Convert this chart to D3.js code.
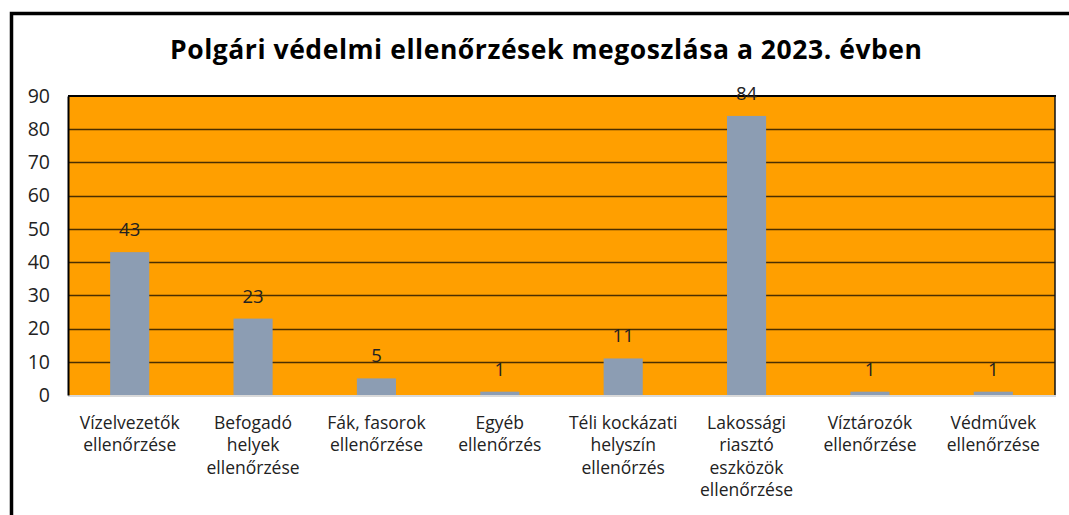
<!DOCTYPE html>
<html>
<head>
<meta charset="utf-8">
<script src="https://cdn.jsdelivr.net/npm/d3@7"></script>
<style>
  html, body { margin: 0; padding: 0; background: #fff; }
  svg { display: block; }
</style>
</head>
<body>
<svg id="chart" width="1069" height="515"></svg>
<script>
const title = "Polgári védelmi ellenőrzések megoszlása a 2023. évben";
const categories = [
  ["Vízelvezetők", "ellenőrzése"],
  ["Befogadó", "helyek", "ellenőrzése"],
  ["Fák, fasorok", "ellenőrzése"],
  ["Egyéb", "ellenőrzés"],
  ["Téli kockázati", "helyszín", "ellenőrzés"],
  ["Lakossági", "riasztó", "eszközök", "ellenőrzése"],
  ["Víztározók", "ellenőrzése"],
  ["Védművek", "ellenőrzése"]
];
const values = [43, 23, 5, 1, 11, 84, 1, 1];
const yTicks = [0, 10, 20, 30, 40, 50, 60, 70, 80, 90];

const svg = d3.select("#chart");
const font = "Open Sans, Noto Sans, sans-serif";

// outer frame
svg.append("rect")
  .attr("x", 11.5).attr("y", 13.5)
  .attr("width", 1100).attr("height", 600)
  .attr("fill", "#fff").attr("stroke", "#000").attr("stroke-width", 3.5);

const plot = { left: 68, right: 1055, top: 96, bottom: 395 };

const x = d3.scaleBand()
  .domain(d3.range(categories.length))
  .range([plot.left, plot.right])
  .paddingInner(0.683).paddingOuter(0.3415);

const y = d3.scaleLinear().domain([0, 90]).range([plot.bottom, plot.top]);

// plot background
svg.append("rect")
  .attr("x", plot.left).attr("y", plot.top)
  .attr("width", plot.right - plot.left).attr("height", plot.bottom - plot.top)
  .attr("fill", "#FF9F00");

// gridlines
svg.append("g")
  .selectAll("line")
  .data(yTicks.filter(d => d > 0 && d < 90))
  .join("line")
  .attr("x1", plot.left).attr("x2", plot.right)
  .attr("y1", d => Math.round(y(d)) + 0.5).attr("y2", d => Math.round(y(d)) + 0.5)
  .attr("stroke", "#4a2e00").attr("stroke-width", 1.3);

// bars
svg.append("g")
  .selectAll("rect")
  .data(values)
  .join("rect")
  .attr("x", (d, i) => x(i))
  .attr("width", x.bandwidth())
  .attr("y", d => y(d))
  .attr("height", d => y(0) - y(d))
  .attr("fill", "#8C9DB3");

// plot frame
svg.append("line").attr("x1", plot.left).attr("x2", plot.right + 1)
  .attr("y1", plot.top).attr("y2", plot.top)
  .attr("stroke", "#000").attr("stroke-width", 2);
svg.append("line").attr("x1", plot.right).attr("x2", plot.right)
  .attr("y1", plot.top).attr("y2", plot.bottom)
  .attr("stroke", "#111").attr("stroke-width", 1.5);
svg.append("line").attr("x1", plot.left).attr("x2", plot.right + 1)
  .attr("y1", plot.bottom + 1).attr("y2", plot.bottom + 1)
  .attr("stroke", "#d9d9d9").attr("stroke-width", 2);

// y axis
const yAxis = d3.axisLeft(y).tickValues(yTicks).tickSize(0).tickPadding(18);
const ya = svg.append("g").attr("transform", `translate(${plot.left},0)`).call(yAxis);
ya.select(".domain").attr("stroke", "#000").attr("stroke-width", 2);
ya.selectAll("text").attr("font-family", font).attr("font-size", 19.5).attr("fill", "#222");

// x axis labels
const xAxis = d3.axisBottom(x).tickSize(0).tickFormat(() => "");
const xa = svg.append("g").attr("transform", `translate(0,${plot.bottom})`).call(xAxis);
xa.select(".domain").remove();
xa.selectAll(".tick").each(function(d) {
  const t = d3.select(this).append("text")
    .attr("x", 0)
    .attr("y", 34)
    .attr("text-anchor", "middle")
    .attr("font-family", font).attr("font-size", 17.5).attr("fill", "#222");
  categories[d].forEach((line, k) => {
    t.append("tspan").attr("x", 0).attr("dy", k === 0 ? 0 : 22.3).text(line);
  });
});

// data labels
svg.append("g")
  .selectAll("text")
  .data(values)
  .join("text")
  .attr("x", (d, i) => x(i) + x.bandwidth() / 2)
  .attr("y", d => y(d) - 16)
  .attr("text-anchor", "middle")
  .attr("font-family", font).attr("font-size", 18.5).attr("fill", "#222")
  .text(d => d);

// title
svg.append("text")
  .attr("x", 546).attr("y", 59)
  .attr("text-anchor", "middle")
  .attr("font-family", font).attr("font-weight", "bold").attr("font-size", 26.5)
  .attr("textLength", 752).attr("lengthAdjust", "spacing")
  .attr("fill", "#000")
  .text(title);
</script>
</body>
</html>
